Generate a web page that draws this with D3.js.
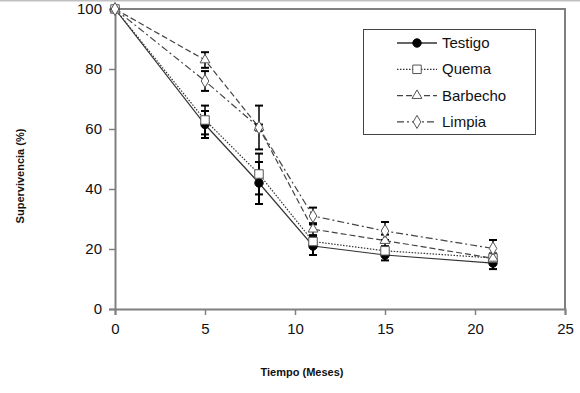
<!DOCTYPE html>
<html>
<head>
<meta charset="utf-8">
<script src="https://cdn.jsdelivr.net/npm/d3@7"></script>
<style>
  body { margin: 0; background: #fff; }
  svg { font-family: Arial, "Liberation Sans", sans-serif; }
</style>
</head>
<body>
<div id="chart"></div>
<script>
// data
const months = [0, 5, 8, 11, 15, 21];
const testigo = [100, 61.5, 42, 21, 18, 15.3];
const testigoErr = [0, 4.5, 7, 3, 1.8, 2];
const quema = [100, 63, 45, 22.5, 19.4, 17];
const quemaErr = [0, 4.8, 6.8, 2, 1.5, 1.5];
const barbecho = [100, 83, 60.5, 26.6, 22.8, 16.9];
const barbechoErr = [0, 2.6, 1, 2, 2, 1.5];
const limpia = [100, 76, 60.5, 31, 26, 20.2];
const limpiaErr = [0, 3.3, 7.3, 2.8, 3, 2.8];
const xTicks = [0, 5, 10, 15, 20, 25];
const yTicks = [0, 20, 40, 60, 80, 100];

const width = 580, height = 393;

const svg = d3.select('#chart')
              .append('svg')
              .attr('width', width)
              .attr('height', height);

svg.append('line')
   .attr('x1', 0).attr('x2', width)
   .attr('y1', 0.5).attr('y2', 0.5)
   .style('stroke', '#c0c0c0')
   .style('stroke-width', 2);

let scaleX = d3.scaleLinear().domain([0, 25]).range([115, 565]);
let scaleY = d3.scaleLinear().domain([0, 100]).range([309, 9]);

// plot frame (top and right)
svg.append('path')
   .attr('d', `M${scaleX(0)},${scaleY(100)}H${scaleX(25)}V${scaleY(0)}`)
   .style('fill', 'none')
   .style('stroke', '#808080')
   .style('stroke-width', 2);

let xAxis = d3.axisBottom(scaleX).tickValues(xTicks).tickSizeOuter(0).tickSize(6).tickPadding(8);
let yAxis = d3.axisLeft(scaleY).tickValues(yTicks).tickSizeOuter(0).tickSize(6).tickPadding(7);

let xAxisGroup = svg.append('g')
                    .attr('transform', 'translate(0,' + scaleY(0) + ')')
                    .call(xAxis);
let yAxisGroup = svg.append('g')
                    .attr('transform', 'translate(' + scaleX(0) + ',0)')
                    .call(yAxis);

[xAxisGroup, yAxisGroup].forEach(g => {
    g.select('.domain').style('stroke', '#808080').style('stroke-width', 2);
    g.selectAll('.tick line').style('stroke', '#808080').style('stroke-width', 1.5);
    g.selectAll('.tick text')
     .style('font-family', 'Arial, "Liberation Sans", sans-serif')
     .style('font-size', '15px')
     .style('fill', '#111');
});

svg.append('text')
   .attr('x', 302)
   .attr('y', 376)
   .style('text-anchor', 'middle')
   .style('font-size', '11px')
   .style('font-weight', 'bold')
   .style('fill', '#111')
   .text('Tiempo (Meses)');

svg.append('text')
   .attr('transform', 'translate(24,176) rotate(-90)')
   .style('text-anchor', 'middle')
   .style('font-size', '11px')
   .style('font-weight', 'bold')
   .style('fill', '#111')
   .text('Supervivencia (%)');

const series = [
    {name: 'Testigo',  vals: testigo,  errs: testigoErr,  dash: null,       color: '#333', marker: 'circle',   ew: 2},
    {name: 'Quema',    vals: quema,    errs: quemaErr,    dash: '1.5,1.5',  color: '#333', marker: 'square',   ew: 1.5},
    {name: 'Barbecho', vals: barbecho, errs: barbechoErr, dash: '6,3',      color: '#444', marker: 'triangle', ew: 1.5},
    {name: 'Limpia',   vals: limpia,   errs: limpiaErr,   dash: '7,3,2,3',  color: '#444', marker: 'diamond',  ew: 1.5}
];

const symbols = {
    circle: d3.symbol().type(d3.symbolCircle).size(55),
    square: d3.symbol().type(d3.symbolSquare).size(72),
    triangle: d3.symbol().type(d3.symbolTriangle).size(42),
    diamond: d3.symbol().type(d3.symbolDiamond).size(50)
};

let line = d3.line()
             .x(d => scaleX(d.x))
             .y(d => scaleY(d.y));

// lines first
series.forEach(s => {
    let pts = months.map((m, i) => ({x: m, y: s.vals[i], e: s.errs[i]}));
    s.pts = pts;
    svg.append('path')
       .datum(pts)
       .attr('d', line)
       .style('fill', 'none')
       .style('stroke', s.color)
       .style('stroke-width', 1.2)
       .style('stroke-dasharray', s.dash);
});

// error bars
series.forEach(s => {
    let g = svg.append('g');
    let eb = g.selectAll('g.eb').data(s.pts.filter(d => d.e > 0)).enter().append('g');
    eb.append('line')
      .attr('x1', d => scaleX(d.x)).attr('x2', d => scaleX(d.x))
      .attr('y1', d => scaleY(d.y - d.e)).attr('y2', d => scaleY(d.y + d.e))
      .style('stroke', '#000').style('stroke-width', s.ew);
    [-1, 1].forEach(sg => {
        eb.append('line')
          .attr('x1', d => scaleX(d.x) - 4).attr('x2', d => scaleX(d.x) + 4)
          .attr('y1', d => scaleY(d.y + sg * d.e)).attr('y2', d => scaleY(d.y + sg * d.e))
          .style('stroke', '#000').style('stroke-width', 2);
    });
});

// markers
series.forEach(s => {
    svg.append('g').selectAll('path')
       .data(s.pts)
       .enter()
       .append('path')
       .attr('d', symbols[s.marker])
       .attr('transform', d => 'translate(' + scaleX(d.x) + ',' + scaleY(d.y) + ')')
       .style('fill', s.marker == 'circle' ? '#000' : '#fff')
       .style('stroke', s.marker == 'circle' ? '#000' : '#555')
       .style('stroke-width', 1);
});

// legend
let legend = svg.append('g');
legend.append('rect')
      .attr('x', 363.5).attr('y', 29.5)
      .attr('width', 172).attr('height', 105)
      .style('fill', '#fff')
      .style('stroke', '#444')
      .style('stroke-width', 1);

series.forEach((s, i) => {
    let y = 43 + i * 26.3;
    legend.append('line')
          .attr('x1', 397).attr('x2', 437)
          .attr('y1', y).attr('y2', y)
          .style('stroke', s.color)
          .style('stroke-width', s.marker == 'circle' ? 1.5 : 1.2)
          .style('stroke-dasharray', s.dash);
    legend.append('path')
          .attr('d', symbols[s.marker])
          .attr('transform', 'translate(417,' + y + ')')
          .style('fill', s.marker == 'circle' ? '#000' : '#fff')
          .style('stroke', s.marker == 'circle' ? '#000' : '#555');
    legend.append('text')
          .attr('x', 442)
          .attr('y', y + 5)
          .style('font-size', '15px')
          .style('fill', '#111')
          .text(s.name);
});
</script>
</body>
</html>
